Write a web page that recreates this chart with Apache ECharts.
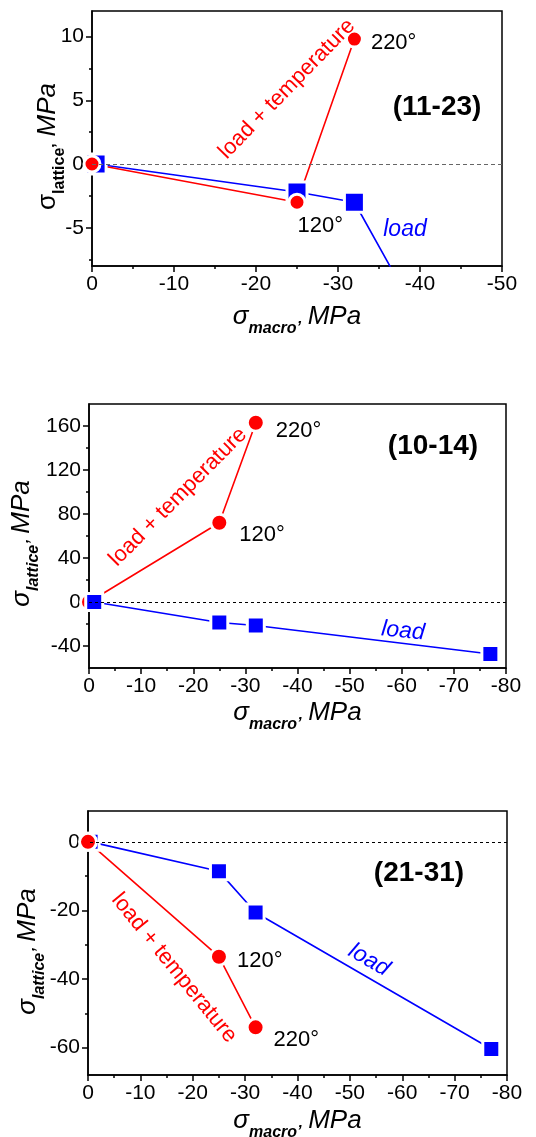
<!DOCTYPE html>
<html>
<head>
<meta charset="utf-8">
<script src="https://cdn.jsdelivr.net/npm/echarts@6/dist/echarts.min.js"></script>
<style>
html,body{margin:0;padding:0;background:#fff;}
#main{width:536px;height:1137px;}
</style>
</head>
<body>
<div id="main"></div>
<script>
// (11-23)
var loadX1 = [-0.5, -25, -32, -77];
var loadY1 = [0, -2.2, -3.0, -55];
var tempX1 = [0, -25, -32];
var tempY1 = [0, -3.0, 9.8];
// (10-14)
var loadX2 = [-1, -25, -32, -77];
var loadY2 = [0, -18.6, -21.4, -47.3];
var tempX2 = [0, -25, -32];
var tempY2 = [0, 72, 163];
// (21-31)
var loadX3 = [-0.5, -25, -32, -77];
var loadY3 = [0, -8.6, -20.6, -60.4];
var tempX3 = [0, -25, -32];
var tempY3 = [0, -33.5, -54.1];

var tempLabels = ['', '120°', '220°'];
var panelNames = ['(11-23)', '(10-14)', '(21-31)'];

var xMin = [-50, -80, -80];
var yRange = [[-8, 12], [-60, 180], [-68, 9]];
var yMajor = [[-5, 0, 5, 10], [-40, 0, 40, 80, 120, 160], [-60, -40, -20, 0]];
var yMinor = [[-7.5, -2.5, 2.5, 7.5], [-20, 20, 60, 100, 140], [-50, -30, -10]];

var loadX = [loadX1, loadX2, loadX3], loadY = [loadY1, loadY2, loadY3];
var tempX = [tempX1, tempX2, tempX3], tempY = [tempY1, tempY2, tempY3];

var font = "'Liberation Sans', Arial, sans-serif";
var grids = [
	{left: 92, top: 11, width: 410, height: 255},
	{left: 89, top: 404, width: 417, height: 264},
	{left: 88, top: 811, width: 419, height: 264}
];
var sizes = [[20, 16], [17, 17], [17, 17]];	// square, circle
var labelOffsets = [
	[[0, 0], [-9, 24], [7, 4]],
	[[0, 0], [10, 12], [10, 8]],
	[[0, 0], [8, 4], [8, 13]]
];
var yGap = [24, 47, 40], yShift = [16, 15, 17], xGap = [31, 25, 26];

var tick = {color: '#000', width: 1.5};

function richName(upright) {
	return {
		fontFamily: font,
		rich: {
			s: {fontFamily: font, fontSize: 26, fontStyle: upright ? 'normal' : 'italic', color: '#000'},
			sub: {fontFamily: font, fontSize: 16, fontWeight: 'bold', fontStyle: upright ? 'normal' : 'italic', color: '#000', padding: [24, 0, 0, 0]},
			m: {fontFamily: font, fontSize: 26, fontStyle: 'italic', color: '#000'}
		}
	};
}

var xAxes = [], yAxes = [], series = [], graphics = [];

for (var i = 0; i < 3; i++) {
	xAxes.push({
		type: 'value', gridIndex: i, min: xMin[i], max: 0, interval: 10, inverse: true,
		axisLine: {show: true, onZero: false, lineStyle: tick},
		axisTick: {show: true, length: 6, lineStyle: tick},
		minorTick: {show: true, splitNumber: 2, length: 3, lineStyle: tick},
		splitLine: {show: false},
		axisLabel: {color: '#000', fontFamily: font, fontSize: 21, margin: 8},
		name: '{s|σ}{sub|macro’}  {m|MPa}',
		nameLocation: 'middle', nameGap: xGap[i], nameMoveOverlap: false,
		nameTextStyle: richName(false)
	});
	var nts = richName(i === 0);
	nts.padding = [0, yShift[i], 0, 0];
	yAxes.push({
		type: 'value', gridIndex: i, position: 'left', min: yRange[i][0], max: yRange[i][1],
		axisLine: {show: true, onZero: false, lineStyle: tick},
		axisTick: {show: true, length: 6, lineStyle: tick, customValues: yMajor[i]},
		axisLabel: {color: '#000', fontFamily: font, fontSize: 21, margin: 8, customValues: yMajor[i]},
		splitLine: {show: false},
		name: '{s|σ}{sub|lattice’}  {m|MPa}',
		nameLocation: 'middle', nameRotate: 90, nameGap: yGap[i], nameMoveOverlap: false,
		nameTextStyle: nts
	});
	// minor ticks
	yAxes.push({
		type: 'value', gridIndex: i, position: 'left', min: yRange[i][0], max: yRange[i][1],
		axisLine: {show: false},
		axisTick: {show: true, length: 3, lineStyle: tick, customValues: yMinor[i]},
		axisLabel: {show: false},
		splitLine: {show: false}
	});

	series.push({
		type: 'line', xAxisIndex: i, yAxisIndex: 2 * i, z: i === 1 ? 3 : 2,
		data: loadX[i].map(function (x, k) { return [x, loadY[i][k]]; }),
		symbol: 'rect', symbolSize: sizes[i][0],
		lineStyle: {color: '#0000ff', width: 1.6},
		itemStyle: {color: '#0000ff', borderColor: '#fff', borderWidth: 3},
		markLine: {
			silent: true, symbol: ['none', 'none'], label: {show: false},
			lineStyle: {type: i === 0 ? [4, 3] : [3, 3], color: i === 0 ? '#666' : '#000', width: 1},
			data: [{yAxis: 0}]
		}
	});
	series.push({
		type: 'line', xAxisIndex: i, yAxisIndex: 2 * i, z: 2,
		data: tempX[i].map(function (x, k) {
			return {
				value: [x, tempY[i][k]],
				label: {
					show: k > 0, formatter: tempLabels[k], position: 'right', distance: 0,
					offset: labelOffsets[i][k], color: '#000', fontFamily: font, fontSize: 22
				}
			};
		}),
		symbol: 'circle', symbolSize: sizes[i][1],
		lineStyle: {color: '#ff0000', width: 1.6},
		itemStyle: {color: '#ff0000', borderColor: '#fff', borderWidth: 3}
	});
}

function note(x, y, text, color, style, rot) {
	return {
		type: 'text', x: x, y: y, rotation: rot || 0, z: 10,
		style: {
			text: text, fill: color, font: style + ' ' + font,
			textAlign: 'center', textVerticalAlign: 'middle', align: 'center', verticalAlign: 'middle'
		}
	};
}

graphics.push(note(287, 89, 'load + temperature', '#ff0000', '22px', 0.80));
graphics.push(note(405, 230, 'load', '#0000ff', 'italic 23px'));
graphics.push(note(437, 107, panelNames[0], '#000', 'bold 28px'));

graphics.push(note(178, 497, 'load + temperature', '#ff0000', '22px', 0.79));
graphics.push(note(403, 631, 'load', '#0000ff', 'italic 23px', -0.1));
graphics.push(note(433, 446, panelNames[1], '#000', 'bold 28px'));

graphics.push(note(174, 968, 'load + temperature', '#ff0000', '22px', -0.89));
graphics.push(note(369, 960, 'load', '#0000ff', 'italic 23px', -0.52));
graphics.push(note(419, 873, panelNames[2], '#000', 'bold 28px'));

var myChart = echarts.init(document.getElementById('main'));
var option = {
	animation: false,
	backgroundColor: '#fff',
	grid: grids.map(function (g) {
		return {left: g.left, top: g.top, width: g.width, height: g.height, show: true,
			outerBoundsMode: 'none',
			borderColor: '#000', borderWidth: 1.5, backgroundColor: 'transparent', containLabel: false};
	}),
	xAxis: xAxes,
	yAxis: yAxes,
	series: series,
	graphic: graphics
};
myChart.setOption(option);

window.onresize = myChart.resize;
</script>
</body>
</html>
